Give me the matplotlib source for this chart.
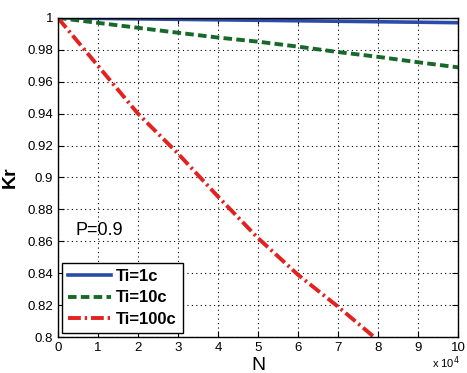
import matplotlib
matplotlib.use("Agg")
import matplotlib.pyplot as plt
from matplotlib.ticker import FuncFormatter

# N values (in units of 1e4) and Kr for each Ti
n_vals = [0, 1, 2, 3, 4, 5, 6, 7, 8, 9, 10]
kr_1c = [1.0, 0.9997, 0.9994, 0.9991, 0.9988, 0.9985, 0.9982, 0.9979, 0.9976, 0.9973, 0.997]
kr_10c = [1.0, 0.9969, 0.9938, 0.9907, 0.9877, 0.9851, 0.9820, 0.9786, 0.9756, 0.9722, 0.969]
n_red = [0, 1, 2, 3, 4, 5, 6, 7, 7.9]
kr_100c = [1.0, 0.970, 0.940, 0.915, 0.888, 0.862, 0.839, 0.819, 0.8]

plt.rcParams['font.family'] = ['Liberation Sans', 'DejaVu Sans']

fig = plt.figure(figsize=(4.67, 3.73), dpi=100)
ax = fig.add_axes([0.124, 0.0965, 0.857, 0.8555])

scale = 1e4
ax.plot([v * scale for v in n_vals], kr_1c, color='#2a4ca8', lw=2.6, label='Ti=1c')
ax.plot([v * scale for v in n_vals], kr_10c, color='#17692a', lw=2.8, ls=(0, (2.2, 1.1)), label='Ti=10c')
ax.plot([v * scale for v in n_red], kr_100c, color='#e3211f', lw=2.8, ls=(0, (3.3, 1.0, 0.6, 1.0)), label='Ti=100c')

ax.set_xlim(0, 1e5)
ax.set_ylim(0.8, 1.0)
ax.set_xticks([i * scale for i in range(11)])
ax.set_yticks([0.8 + 0.02 * i for i in range(11)])
ax.xaxis.set_major_formatter(FuncFormatter(lambda v, p: '%d' % round(v / scale)))
ax.yaxis.set_major_formatter(FuncFormatter(lambda v, p: '%g' % round(v, 2)))
ax.tick_params(labelsize=9.5, direction='in', length=4, top=True, right=True)
ax.grid(True, color='black', ls=(0, (1, 3)), lw=0.8)
for s in ax.spines.values():
    s.set_linewidth(1.0)

ax.set_xlabel('N', fontsize=14, labelpad=2)
ax.set_ylabel('Kr', fontsize=14, fontweight='bold', labelpad=6)
fig.text(0.985, 0.006, r'x 10$^4$', fontsize=8, ha='right', va='bottom')
ax.text(0.45 * scale, 0.867, 'P=0.9', fontsize=13, va='center')

leg = ax.legend(loc='lower left', fontsize=12, handlelength=2.6, borderaxespad=0.25,
                fancybox=False, framealpha=1, edgecolor='black', borderpad=0.35,
                labelspacing=0.4, handletextpad=0.3)
leg.get_frame().set_linewidth(1.0)
for t in leg.get_texts():
    t.set_fontweight('bold')

fig.savefig('out.png', dpi=100)
